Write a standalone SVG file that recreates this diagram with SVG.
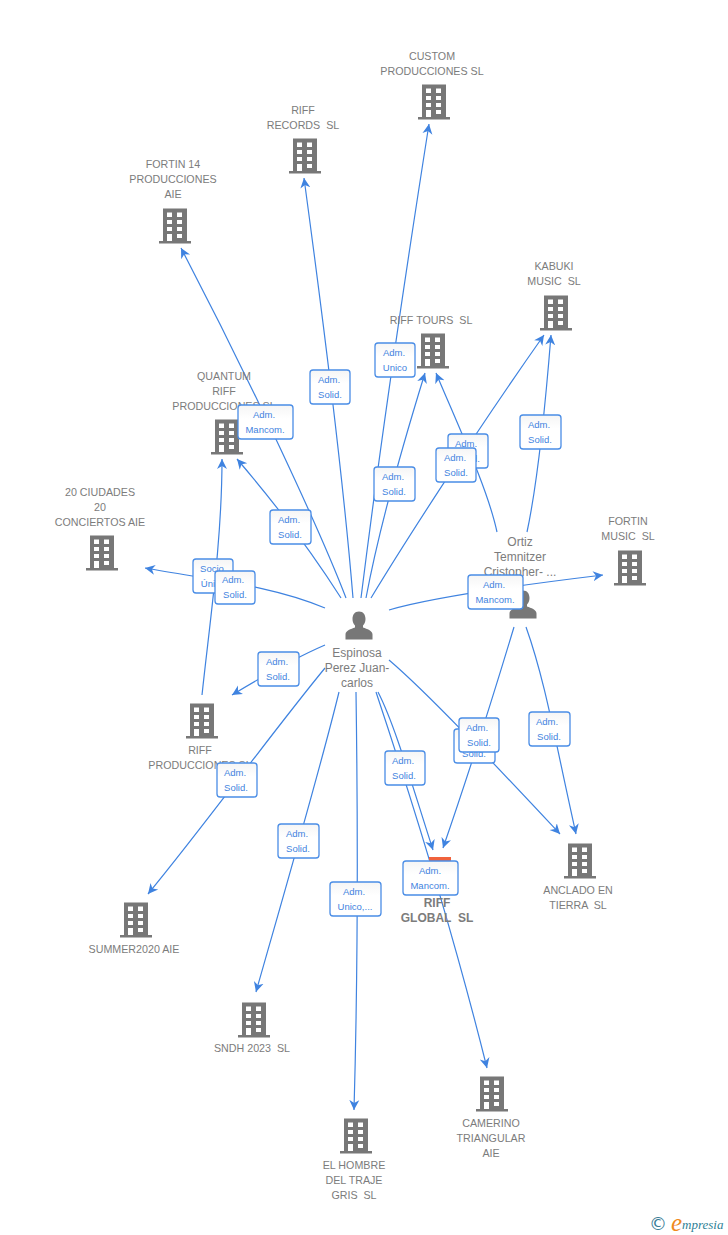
<svg xmlns="http://www.w3.org/2000/svg" width="728" height="1235" viewBox="0 0 728 1235">
<style>
.c{fill:none;stroke:#3f83e0;stroke-width:1.2;marker-end:url(#a)}
.n{font:10.7px "Liberation Sans",Arial,sans-serif;fill:#7c7c7c;text-anchor:middle;white-space:pre}
.p{font-size:12px}
.b{font-weight:bold;font-size:12px}
.lb{fill:url(#g);stroke:#4a8de6;stroke-width:1.3}
.lt{font:9.5px "Liberation Sans",Arial,sans-serif;fill:#3f83e0;text-anchor:middle}
</style>
<defs>
<linearGradient id="g" x1="0" y1="0" x2="0" y2="1"><stop offset="0" stop-color="#f5f5f5"/><stop offset="0.4" stop-color="#fff"/></linearGradient>
<marker id="a" markerUnits="userSpaceOnUse" markerWidth="12" markerHeight="12" refX="10" refY="5" orient="auto" viewBox="0 0 12 10"><path d="M0 0L10 5L0 10L3 5z" fill="#3f83e0"/></marker>
<g id="bld"><path fill="#777" fill-rule="evenodd" d="M-12-17.500H12V15H16V17.500H-16V15H-12ZM-8-13.500V-9H-3V-13.500ZM2-13.500V-9H7V-13.500ZM-8-6V-2H-3V-6ZM2-6V-2H7V-6ZM-8 1V5H-3V1ZM2 1V5H7V1ZM-8 8V15H-3V8ZM2 8V12H7V8Z"/></g>
<g id="per"><path fill="#777" d="M0-14.500C4.500-14.500 6.500-11 6.500-7C6.500-4 5.500-2 4-.5V1.500C8 3 13.500 4.500 13.500 8.500V13.500H-13.500V8.500C-13.500 4.500-8 3-4 1.500V-.5C-5.500-2-6.500-4-6.500-7C-6.500-11-4.500-14.500 0-14.500Z"/></g>
</defs>
<rect width="728" height="1235" fill="#fff"/>

<g id="connectors">
<path class="c" d="M361 598C372 510 395 340 429 124"/>
<path class="c" d="M353 598C345 500 330 370 304 178"/>
<path class="c" d="M346 598C320 530 250 380 181 248"/>
<path class="c" d="M366 598C375 550 395 470 425 373"/>
<path class="c" d="M497 532C488 490 460 430 436 373"/>
<path class="c" d="M371 598C400 550 470 440 544 335"/>
<path class="c" d="M527 532C536 490 545 410 551 335"/>
<path class="c" d="M341 598C320 565 285 515 237 459"/>
<path class="c" d="M202 695C210 620 222 540 222 459"/>
<path class="c" d="M325 608C270 585 210 580 145 568"/>
<path class="c" d="M325 645C295 658 265 675 232 695"/>
<path class="c" d="M325 668C270 735 205 825 148 894"/>
<path class="c" d="M339 692C320 770 285 890 256 992"/>
<path class="c" d="M356 692C358 830 358 970 354 1110"/>
<path class="c" d="M378 692C395 725 412 785 433 850"/>
<path class="c" d="M376 692C392 740 445 900 487 1068"/>
<path class="c" d="M514 627C495 690 470 770 443 848"/>
<path class="c" d="M389 660C430 695 500 770 560 834"/>
<path class="c" d="M526 627C545 680 555 740 576 834"/>
<path class="c" d="M389 610C430 598 520 585 603 575"/>
</g>

<g id="n-custom"><use href="#bld" x="434" y="102"/><text class="n" x="432" y="60">CUSTOM</text><text class="n" x="432" y="75">PRODUCCIONES SL</text></g>
<g id="n-records"><use href="#bld" x="305" y="156"/><text class="n" x="303" y="114">RIFF</text><text class="n" x="303" y="129">RECORDS  SL</text></g>
<g id="n-fortin14"><use href="#bld" x="175" y="226"/><text class="n" x="173" y="168">FORTIN 14</text><text class="n" x="173" y="183">PRODUCCIONES</text><text class="n" x="173" y="198">AIE</text></g>
<g id="n-tours"><use href="#bld" x="433" y="351"/><text class="n" x="431" y="324">RIFF TOURS  SL</text></g>
<g id="n-kabuki"><use href="#bld" x="556" y="313"/><text class="n" x="554" y="270">KABUKI</text><text class="n" x="554" y="285">MUSIC  SL</text></g>
<g id="n-quantum"><use href="#bld" x="227" y="437"/><text class="n" x="224" y="380">QUANTUM</text><text class="n" x="224" y="395">RIFF</text><text class="n" x="224" y="410">PRODUCCIONES SL</text></g>
<g id="n-20c"><use href="#bld" x="102" y="553"/><text class="n" x="100" y="496">20 CIUDADES</text><text class="n" x="100" y="511">20</text><text class="n" x="100" y="526">CONCIERTOS AIE</text></g>
<g id="n-fortinm"><use href="#bld" x="630" y="568"/><text class="n" x="628" y="525">FORTIN</text><text class="n" x="628" y="540">MUSIC  SL</text></g>
<g id="n-prod"><use href="#bld" x="202" y="721"/><text class="n" x="200" y="754">RIFF</text><text class="n" x="200" y="769">PRODUCCIONES SL</text></g>
<g id="n-summer"><use href="#bld" x="136" y="920"/><text class="n" x="134" y="953">SUMMER2020 AIE</text></g>
<g id="n-sndh"><use href="#bld" x="254" y="1020"/><text class="n" x="252" y="1052">SNDH 2023  SL</text></g>
<g id="n-hombre"><use href="#bld" x="356" y="1136"/><text class="n" x="354" y="1169">EL HOMBRE</text><text class="n" x="354" y="1184">DEL TRAJE</text><text class="n" x="354" y="1199">GRIS  SL</text></g>
<g id="n-camerino"><use href="#bld" x="492" y="1094"/><text class="n" x="491" y="1127">CAMERINO</text><text class="n" x="491" y="1142">TRIANGULAR</text><text class="n" x="491" y="1157">AIE</text></g>
<g id="n-anclado"><use href="#bld" x="580" y="861"/><text class="n" x="578" y="894">ANCLADO EN</text><text class="n" x="578" y="909">TIERRA  SL</text></g>
<g id="n-global"><rect x="429" y="857" width="22" height="8" fill="#f0623c"/><text class="n b" x="437" y="907">RIFF</text><text class="n b" x="437" y="922">GLOBAL  SL</text></g>
<g id="n-espinosa"><use href="#per" x="359" y="626"/><text class="n p" x="357" y="657">Espinosa</text><text class="n p" x="357" y="672">Perez Juan-</text><text class="n p" x="357" y="687">carlos</text></g>
<g id="n-ortiz"><use href="#per" x="523" y="605"/><text class="n p" x="520" y="546">Ortiz</text><text class="n p" x="520" y="561">Temnitzer</text><text class="n p" x="520" y="576">Cristopher- ...</text></g>

<g id="labels">
<g><rect class="lb" x="375" y="343" width="40" height="34" rx="3"/><text class="lt" x="394" y="356">Adm.</text><text class="lt" x="395" y="371">Unico</text></g>
<g><rect class="lb" x="310" y="370" width="40" height="34" rx="3"/><text class="lt" x="329" y="383">Adm.</text><text class="lt" x="330" y="398">Solid.</text></g>
<g><rect class="lb" x="238" y="405" width="55" height="34" rx="3"/><text class="lt" x="264" y="418">Adm.</text><text class="lt" x="265" y="433">Mancom.</text></g>
<g><rect class="lb" x="270" y="510" width="41" height="34" rx="3"/><text class="lt" x="289" y="523">Adm.</text><text class="lt" x="290" y="538">Solid.</text></g>
<g><rect class="lb" x="374" y="467" width="41" height="34" rx="3"/><text class="lt" x="393" y="480">Adm.</text><text class="lt" x="394" y="495">Solid.</text></g>
<g><rect class="lb" x="448" y="434" width="40" height="34" rx="3"/><text class="lt" x="466" y="447">Adm.</text><text class="lt" x="468" y="462">Solid.</text></g>
<g><rect class="lb" x="436" y="448" width="40" height="34" rx="3"/><text class="lt" x="455" y="461">Adm.</text><text class="lt" x="456" y="476">Solid.</text></g>
<g><rect class="lb" x="520" y="415" width="41" height="34" rx="3"/><text class="lt" x="539" y="428">Adm.</text><text class="lt" x="540" y="443">Solid.</text></g>
<g><rect class="lb" x="193" y="559" width="40" height="34" rx="3"/><text class="lt" x="212" y="572">Socio</text><text class="lt" x="213" y="587">Único</text></g>
<g><rect class="lb" x="215" y="571" width="40" height="33" rx="3"/><text class="lt" x="233" y="583">Adm.</text><text class="lt" x="235" y="598">Solid.</text></g>
<g><rect class="lb" x="468" y="575" width="55" height="34" rx="3"/><text class="lt" x="494" y="588">Adm.</text><text class="lt" x="495" y="603">Mancom.</text></g>
<g><rect class="lb" x="258" y="652" width="41" height="34" rx="3"/><text class="lt" x="277" y="665">Adm.</text><text class="lt" x="278" y="680">Solid.</text></g>
<g><rect class="lb" x="217" y="763" width="40" height="34" rx="3"/><text class="lt" x="235" y="776">Adm.</text><text class="lt" x="236" y="791">Solid.</text></g>
<g><rect class="lb" x="278" y="824" width="41" height="34" rx="3"/><text class="lt" x="297" y="837">Adm.</text><text class="lt" x="298" y="852">Solid.</text></g>
<g><rect class="lb" x="330" y="882" width="51" height="34" rx="3"/><text class="lt" x="354" y="895">Adm.</text><text class="lt" x="355" y="910">Unico,...</text></g>
<g><rect class="lb" x="385" y="751" width="40" height="34" rx="3"/><text class="lt" x="403" y="764">Adm.</text><text class="lt" x="404" y="779">Solid.</text></g>
<g><rect class="lb" x="403" y="861" width="55" height="34" rx="3"/><text class="lt" x="430" y="874">Adm.</text><text class="lt" x="430" y="889">Mancom.</text></g>
<g><rect class="lb" x="454" y="729" width="41" height="34" rx="3"/><text class="lt" x="473" y="742">Adm.</text><text class="lt" x="474" y="757">Solid.</text></g>
<g><rect class="lb" x="459" y="718" width="40" height="34" rx="3"/><text class="lt" x="477" y="731">Adm.</text><text class="lt" x="479" y="746">Solid.</text></g>
<g><rect class="lb" x="529" y="712" width="41" height="34" rx="3"/><text class="lt" x="547" y="725">Adm.</text><text class="lt" x="549" y="740">Solid.</text></g>
</g>

<g id="logo">
<text x="649" y="1230" font-family="'DejaVu Sans',sans-serif" font-size="18" fill="#3a7d96">©</text>
<text x="671" y="1231" font-family="'Liberation Serif',serif" font-style="italic" font-size="25" fill="#f08a1d">e</text>
<text x="682" y="1229" font-family="'Liberation Serif',serif" font-style="italic" font-size="13" fill="#2f7f96">mpresia</text>
</g>
</svg>
